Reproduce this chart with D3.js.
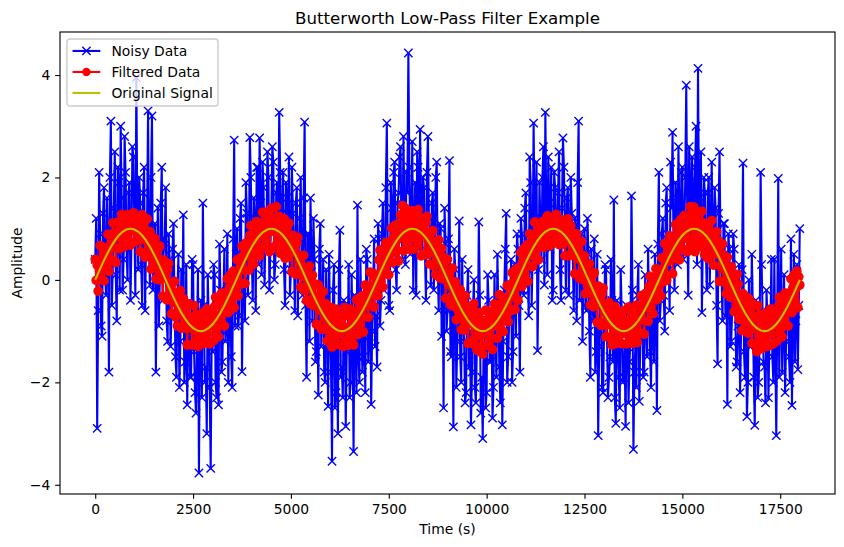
<!DOCTYPE html>
<html>
<head>
<meta charset="utf-8">
<script src="https://cdn.jsdelivr.net/npm/d3@7"></script>
<style>
  body { margin: 0; background: #fff; }
  svg { display: block; font-family: "DejaVu Sans", sans-serif; }
</style>
</head>
<body>
<svg id="chart" width="844" height="547"></svg>
<script>
'use strict';

// sample spacing of each series (seconds)
var noisyStep = 50;      // noisyMid sits halfway between these
var filteredStep = 25;
var originalStep = 200;

// noisy samples at t = 0, 50, 100 ... (600 s per row)
var noisyValues = [
  0.4, -2.9, 2.1, -0.9, 1.3, 0.2, 1.6, -1.8, 3.1, 0.3, 2.5, -0.8,
  1.9, 3.0, -0.2, 2.8, 0.6, 1.7, -0.4, 2.6, 1.1, 3.95, 0.2, 1.5,
  -0.5, 2.2, 0.9, 3.3, -0.1, 3.2, 0.5, -1.8, 1.4, 0.0, 2.2, 0.6,
  1.8, -1.2, 0.4, -0.7, 1.1, -1.5, -0.3, -2.1, 0.2, 1.27, -1.6, -2.44,
  -0.5, -1.9, 0.3, -2.2, -1.1, -3.77, -0.4, 1.5, -2.0, -3.0, -0.8, -3.68,
  -1.4, 0.1, -2.3, -2.44, -0.2, -1.6, 0.6, -1.0, -2.0, -0.1, -2.1, 2.73,
  0.5, -0.9, 1.2, -1.79, 0.6, 1.9, -0.3, 2.78, 0.4, 1.6, -0.6, 2.2,
  2.77, 0.1, 1.8, 0.9, 2.5, -0.2, 1.4, 2.3, 0.3, 1.9, 3.27, 0.7,
  2.1, -0.5, 1.6, 2.4, 0.2, 1.3, -0.6, 1.8, 0.5, 2.0, -0.3, 3.08,
  -1.9, 0.9, 1.6, -0.8, 0.4, -1.4, -2.25, 1.1, -0.6, -1.8, 0.2, -2.47,
  -1.0, -3.54, 0.3, -2.2, -3.0, 0.97, -1.7, -0.4, -2.86, -1.2, -2.3, 0.1,
  -3.35, -1.0, 1.46, -2.0, -0.7, -1.5, -2.2, 0.4, -1.1, -2.43, -0.2, -1.3,
  -1.7, 0.8, -0.4, 1.5, 0.2, 3.06, -0.5, 1.9, 0.6, 2.3, -0.2, 1.7,
  2.6, 0.4, 1.2, 2.1, 4.43, 0.5, 2.7, 1.0, -0.3, 2.2, 2.94, 0.6,
  1.8, -0.4, 2.8, 0.9, 1.5, -0.2, 2.0, 0.3, 1.1, -1.1, -2.5, 0.7,
  -0.6, 2.33, -1.5, -2.87, 0.2, -1.2, 1.15, -2.0, -0.8, -2.4, -0.3, -1.7,
  -2.83, -0.6, -2.1, -1.3, 1.13, -2.6, -3.1, -0.9, -2.2, -0.4, -1.6, -2.7,
  0.1, -1.9, -0.7, -2.4, -2.83, -0.2, 1.3, -1.5, -0.5, -2.0, 0.3, -1.1,
  0.6, -1.8, 0.9, -0.3, 1.7, 0.2, 2.4, -0.5, 3.06, 0.8, -1.38, 1.9,
  0.4, 2.6, 3.27, 0.1, 1.5, 2.2, -0.2, 1.8, 0.7, 2.5, -0.4, 2.77,
  0.9, 1.6, -0.3, 2.0, 0.5, 1.2, -0.8, 3.1, 0.3, -1.2, 1.0, -0.6,
  0.5, -1.9, -0.3, 0.8, -1.4, -3.04, -0.5, -2.1, -1.0, 0.2, -2.3, -1.5,
  -0.4, 1.56, -2.8, -1.1, -2.5, -0.6, -1.9, -2.86, -0.8, -1.6, 1.64, -3.31,
  -1.3, -0.3, -2.37, -1.0, -1.9, 0.1, -1.5, -0.6, -2.1, -0.9, 0.5, -2.55,
  2.1, -0.4, 1.2, -1.0, 1.8, 0.3, 2.3, 2.88, -0.2, 1.6, 2.6, 0.5,
  2.2, 1.0, 3.8, -0.3, 1.9, 2.4, 0.8, 3.0, 4.13, 1.2, -0.64, 2.0,
  0.6, 1.7, -0.1, 2.3, 0.9, 1.4, -1.64, 2.5, 0.2, 1.1, -0.7, -2.43,
  0.6, -1.2, 0.9, -0.4, -1.6, 0.3, -1.0, 2.28, -1.9, -2.67, 0.0, -1.3,
  -0.5, -2.84, -1.1, -2.0, 2.1, -0.6, -1.7, -0.2, -2.3, -0.9, -1.5, 0.4,
  -3.04, 1.98, -0.7, -1.8, 0.1, -1.2, -0.3, -2.0, -2.45, 0.5, -0.8, -1.75,
  1.0
];

// noisy samples at t = 25, 75, 125 ... (600 s per row)
var noisyMid = [
  1.2, -0.6, 0.9, -1.1, 1.8, -0.3, 0.8, 2.0, -0.5, 1.4, 0.1, 2.2,
  -0.2, 1.6, 0.4, 2.1, 0.0, 1.9, 0.7, 2.4, -0.3, 1.3, 2.0, 0.3,
  1.7, -0.6, 1.2, 0.5, 2.0, -0.2, 1.1, 0.4, -0.9, 1.5, -0.4, 0.8,
  -0.8, 0.9, -1.3, 0.6, -0.4, -1.9, 0.5, -1.2, -0.6, -2.0, 0.3, -1.0,
  -1.9, 0.4, -1.4, -2.6, 0.2, -1.0, -2.3, -0.5, -1.7, 0.1, -2.1, -1.2,
  0.3, -2.0, -0.9, 0.7, -1.8, -0.3, -1.2, 0.9, -0.6, -1.5, 0.8, -0.9,
  1.0, -0.7, 1.5, 0.1, -0.8, 1.3, 0.5, 2.0, -0.4, 1.2, 2.2, 0.3,
  1.5, 2.3, -0.1, 1.1, 2.0, 0.6, 2.6, 0.0, 1.7, 0.8, 2.1, 1.3,
  0.2, 1.9, 1.0, -0.3, 2.2, 0.6, 1.5, -0.7, 1.2, 0.1, 1.6, -0.5,
  0.9, -1.2, 0.3, 1.2, -1.6, -0.4, 0.6, -1.3, 0.4, -2.0, -0.7, 0.5,
  -1.8, -0.2, -2.5, -1.1, 0.2, -1.9, -2.3, -0.5, -1.4, 0.3, -2.0, -1.1,
  -0.3, -2.2, -1.5, 0.4, -1.8, -0.8, 0.6, -1.6, -0.1, -1.0, 0.8, -0.7,
  1.1, -0.9, 0.9, -0.2, 1.8, 0.4, -0.6, 1.4, 2.1, 0.2, 1.5, 2.4,
  0.9, 2.8, 0.3, 1.7, 2.2, 1.0, -0.2, 1.9, 2.5, 0.6, 1.4, 2.0,
  0.5, 2.1, 1.2, -0.1, 1.7, 0.8, 2.3, -0.6, 1.0, 0.3, 1.4, -1.0,
  0.8, -1.4, -0.3, 0.6, -2.1, -0.8, -1.5, 0.4, -1.2, -2.2, 0.2, -1.0,
  -1.8, 0.0, -2.4, -1.2, -0.3, -1.9, -1.0, -2.5, 0.1, -1.6, -0.7, -2.1,
  -1.0, 0.5, -1.7, -0.3, -1.2, 0.6, -2.0, -0.8, 0.4, -1.4, -0.2, 0.9,
  -0.5, 1.2, -0.2, 1.4, 0.3, -0.7, 1.9, 0.5, 1.2, 2.3, 0.2, 1.0,
  2.0, -0.1, 1.3, 2.4, 0.6, -0.4, 2.1, 1.0, 1.7, 0.2, 1.4, 2.2,
  -0.2, 1.8, 0.8, 1.3, -0.6, 1.0, 1.9, -0.4, 0.9, 0.4, -0.5, 1.2,
  -1.0, 0.6, -0.8, -1.8, 0.5, -1.3, -0.4, -2.2, 0.3, -1.1, -1.9, 0.4,
  -1.6, -2.3, -0.4, -1.9, 0.2, -2.0, -1.3, -0.5, -2.4, -1.1, -0.2, -1.8,
  -2.1, 0.3, -1.2, -0.5, -1.8, -0.9, 0.6, -1.4, -0.2, -1.6, -0.7, 0.7,
  -0.8, 0.9, -0.3, 1.5, 0.4, -0.6, 1.4, 0.6, 1.9, 0.3, 1.2, 2.1,
  0.4, 2.0, 1.3, 2.6, 0.6, 1.6, 2.2, 0.3, 1.5, 2.5, 0.9, 1.7,
  -0.2, 2.0, 1.0, 0.3, 1.8, -0.5, 1.3, 0.7, -0.8, 1.1, 0.4, 0.9,
  -1.3, -0.5, 0.6, -1.7, -0.9, -2.2, 0.2, -1.4, -0.6, -2.0, -1.3, 0.5,
  -1.9, -0.4, -2.3, -1.2, 0.3, -1.6, -2.4, -0.8, -1.1, 0.4, -2.0, -1.4,
  -0.6, -1.9, 0.6, -1.0, -2.2, -0.3, -1.5, 0.8, -0.9, -1.6, 0.3, -0.5
];

// filtered samples every 25 s (300 s per row, 12 rows per period)
var filteredValues = [
  0.4, -0.01, 0.29, -0.22, 0.27, 0.67, 0.01, 0.3, 0.64, -0.02, 0.57, 0.31,
  0.3, 0.89, 0.17, 0.66, 0.89, 0.38, 1.11, 0.64, 0.92, 0.34, 1.12, 0.84,
  0.95, 0.61, 1.15, 1.28, 0.78, 0.99, 0.65, 1.18, 0.9, 1.27, 0.76, 1.16,
  0.68, 1.16, 0.96, 1.31, 0.74, 1.1, 1.25, 0.79, 0.94, 1.16, 0.55, 0.97,
  1.27, 0.79, 1.02, 0.44, 0.87, 1.19, 0.46, 0.68, 0.94, 0.21, 0.72, 0.39,
  0.3, 0.81, 0.02, 0.43, 0.59, 0.0, 0.66, 0.12, 0.32, -0.32, 0.39, 0.04,
  0.1, -0.39, 0.21, 0.32, -0.37, -0.17, -0.66, -0.05, -0.44, -0.03, -0.72, -0.26,
  -0.9, -0.34, -0.62, -0.21, -0.94, -0.53, -0.36, -0.94, -0.77, -0.49, -1.27, -0.74,
  -0.47, -0.94, -0.71, -1.27, -0.84, -0.5, -1.22, -0.98, -0.68, -1.3, -0.85, -1.15,
  -1.2, -0.65, -1.25, -0.94, -0.73, -1.22, -0.57, -1.05, -0.79, -1.25, -0.61, -0.89,
  -0.77, -1.19, -0.52, -0.34, -0.97, -0.69, -1.11, -0.43, -0.74, -0.26, -0.87, -0.34,
  -0.9, -0.26, -0.47, 0.02, -0.64, -0.15, 0.09, -0.42, -0.17, 0.17, -0.54, 0.06,
  -0.2, 0.39, -0.31, 0.18, 0.42, -0.08, 0.66, 0.2, 0.49, -0.07, 0.72, 0.46,
  0.6, 0.19, 0.87, 1.06, 0.44, 0.73, 0.31, 0.99, 0.67, 1.14, 0.52, 1.04,
  0.47, 1.09, 0.86, 1.32, 0.64, 1.1, 1.32, 0.78, 0.98, 1.29, 0.55, 1.1,
  1.4, 0.95, 1.2, 0.64, 1.08, 1.43, 0.72, 0.95, 1.24, 0.52, 1.06, 0.74,
  0.67, 1.19, 0.42, 0.84, 1.02, 0.44, 1.11, 0.58, 0.79, 0.16, 0.87, 0.54,
  0.6, 0.11, 0.72, 0.83, 0.14, 0.35, -0.14, 0.47, 0.07, 0.48, -0.21, 0.24,
  -0.4, 0.16, -0.14, 0.27, -0.47, -0.07, 0.09, -0.5, -0.34, -0.08, -0.87, -0.36,
  -0.1, -0.59, -0.37, -0.96, -0.54, -0.23, -0.96, -0.74, -0.47, -1.19, -0.67, -0.99,
  -1.07, -0.54, -1.31, -0.87, -0.69, -1.25, -0.57, -1.08, -0.83, -1.26, -0.7, -1.0,
  -0.9, -1.3, -0.7, -0.54, -1.18, -0.93, -1.28, -0.7, -1.04, -0.57, -1.21, -0.69,
  -1.27, -0.64, -0.87, -0.39, -1.07, -0.59, -0.36, -0.88, -0.64, -0.31, -1.02, -0.44,
  -0.1, -0.51, -0.22, -0.73, -0.24, 0.15, -0.51, -0.22, 0.13, -0.53, 0.06, -0.19,
  0.1, -0.31, 0.39, 0.58, -0.03, 0.27, -0.14, 0.55, 0.24, 0.73, 0.12, 0.66,
  0.1, 0.74, 0.52, 1.01, 0.34, 0.83, 1.06, 0.54, 0.77, 1.09, 0.37, 0.94,
  1.27, 0.84, 1.45, 0.57, 1.04, 1.4, 0.72, 0.98, 1.28, 0.59, 1.15, 0.85,
  0.8, 1.35, 0.6, 1.04, 1.23, 0.68, 1.37, 0.85, 1.09, 0.47, 1.21, 0.89,
  0.97, 0.49, 1.12, 1.24, 0.57, 0.79, 0.31, 0.93, 0.54, 0.96, 0.27, 0.74,
  0.1, 0.66, 0.37, 0.78, 0.04, 0.45, 0.61, 0.02, 0.17, 0.43, -0.36, 0.14,
  0.4, -0.09, 0.11, -0.48, -0.07, 0.23, -0.51, -0.3, -0.04, -0.78, -0.27, -0.61,
  -0.7, -0.19, -0.97, -0.56, -0.39, -0.98, -0.31, -0.84, -0.62, -1.24, -0.52, -0.84,
  -0.77, -1.24, -0.61, -0.47, -1.14, -0.9, -1.37, -0.73, -1.08, -0.64, -1.3, -0.8,
  -1.45, -0.8, -1.05, -0.59, -1.28, -0.83, -0.62, -1.15, -0.94, -0.62, -1.36, -0.79,
  -0.47, -0.89, -0.62, -1.14, -0.67, -0.29, -0.96, -0.68, -0.34, -1.01, -0.42, -0.69,
  -0.7, -0.11, -0.82, -0.33, -0.09, -0.6, 0.14, -0.32, -0.02, -0.58, 0.21, -0.04,
  -0.4, 0.24, 0.04, 0.53, -0.13, 0.37, 0.61, 0.1, 0.34, 0.68, -0.03, 0.56,
  0.9, 0.49, 0.77, 0.26, 0.74, 1.13, 0.46, 0.74, 1.07, 0.39, 0.97, 0.69,
  0.73, 1.14, 0.63, 0.96, 1.12, 0.74, 1.25, 0.91, 1.09, 0.67, 1.21, 1.0,
  1.07, 0.75, 1.21, 1.28, 0.84, 1.02, 0.69, 1.13, 0.87, 1.17, 0.7, 1.03,
  0.47, 1.04, 0.77, 1.19, 0.47, 0.89, 1.06, 0.48, 0.64, 0.91, 0.12, 0.64,
  0.9, 0.41, 0.62, 0.03, 0.44, 0.75, 0.01, 0.22, 0.47, -0.27, 0.24, -0.11,
  -0.2, 0.31, -0.49, -0.08, 0.08, -0.52, 0.14, -0.4, -0.19, -0.83, -0.12, -0.46,
  -0.4, -0.89, -0.27, -0.16, -0.84, -0.63, -1.11, -0.49, -0.87, -0.44, -1.12, -0.64,
  -1.27, -0.69, -0.96, -0.52, -1.24, -0.8, -0.62, -1.18, -0.98, -0.69, -1.25, -0.9,
  -0.6, -1.05, -0.8, -1.25, -0.88, -0.53, -1.22, -0.95, -0.64, -1.24, -0.76, -1.04,
  -1.07, -0.49, -1.22, -0.74, -0.52, -1.04, -0.31, -0.78, -0.49, -1.06, -0.27, -0.54,
  -0.4, -0.81, -0.12, 0.07, -0.54, -0.25, -0.66, 0.03, -0.27, 0.22, -0.39, 0.16,
  -0.15, 0.19, -0.31, 0.43, 0.17, -0.03, 0.71, 0.4, -0.01, 0.58, 0.37, 0.86,
  0.5, 0.84, 0.12, 0.76, 0.54, 1.08, 0.41, 0.99, 0.82, 0.39, 1.17, 0.64,
  1.07, 0.59, 1.26, 0.82, 1.19, 0.55, 1.02, 0.78, 1.43, 1.29, 0.65, 1.1,
  1.42, 0.55, 1.3, 0.99, 0.78, 1.33, 1.12, 0.65, 1.34, 0.87, 1.11, 0.49,
  0.72, 0.99, 0.42, 1.09, 0.77, 0.49, 1.16, 0.78, 0.29, 0.81, 0.52, 0.94,
  0.5, 0.76, -0.03, 0.53, 0.24, 0.7, -0.04, 0.47, 0.22, -0.27, 0.44, -0.16,
  0.2, -0.34, 0.26, -0.23, 0.08, -0.62, -0.21, -0.5, 0.11, -0.08, -0.77, -0.36,
  -0.4, -0.99, -0.27, -0.61, -0.84, -0.33, -0.56, -1.04, -0.37, -0.84, -0.62, -1.24,
  -0.47, -0.94, -0.71, -1.27, -1.4, -0.5, -1.22, -0.98, -0.68, -1.34, -0.85, -1.15,
  -1.2, -0.65, -1.3, -0.94, -0.73, -1.28, -0.57, -1.05, -0.79, -1.25, -0.61, -0.89,
  -0.77, -1.19, -0.52, -0.34, -0.97, -0.69, -1.11, -0.43, -0.74, -0.26, -0.87, -0.34,
  -0.9, -0.26, -0.47, 0.02, -0.64, -0.15, 0.09, -0.42, -0.17, 0.17, -0.54, 0.06,
  -0.1
];

// the clean sine, one period (3600 s) per row
var originalValues = [
  0, 0.342, 0.643, 0.866, 0.985, 0.985, 0.866, 0.643, 0.342, 0, -0.342, -0.643, -0.866, -0.985, -0.985, -0.866, -0.643, -0.342,
  0, 0.342, 0.643, 0.866, 0.985, 0.985, 0.866, 0.643, 0.342, 0, -0.342, -0.643, -0.866, -0.985, -0.985, -0.866, -0.643, -0.342,
  0, 0.342, 0.643, 0.866, 0.985, 0.985, 0.866, 0.643, 0.342, 0, -0.342, -0.643, -0.866, -0.985, -0.985, -0.866, -0.643, -0.342,
  0, 0.342, 0.643, 0.866, 0.985, 0.985, 0.866, 0.643, 0.342, 0, -0.342, -0.643, -0.866, -0.985, -0.985, -0.866, -0.643, -0.342,
  0, 0.342, 0.643, 0.866, 0.985, 0.985, 0.866, 0.643, 0.342, 0, -0.342, -0.643, -0.866, -0.985, -0.985, -0.866, -0.643, -0.342,
  0
];

var xTicks = [0, 2500, 5000, 7500, 10000, 12500, 15000, 17500];
var yTicks = [-4, -2, 0, 2, 4];
var seriesNames = ['Noisy Data', 'Filtered Data', 'Original Signal'];

var W = 844, H = 547;
var margin = {top: 32, right: 9, bottom: 53, left: 60};
var innerW = W - margin.left - margin.right;
var innerH = H - margin.top - margin.bottom;
var pt = 100 / 72;

// merge the on-step and half-step samples into one ordered list
function interleave(a, b) {
  var out = [];
  a.forEach(function(v, i) {
    out.push(v);
    if (i < b.length) out.push(b[i]);
  });
  return out;
}

function toPoints(values, step) {
  return values.map(function(v, i) { return {t: i * step, v: v}; });
}

var noisy = toPoints(interleave(noisyValues, noisyMid), noisyStep / 2);
var filtered = toPoints(filteredValues, filteredStep);
var original = toPoints(originalValues, originalStep);

var tExtent = d3.extent(noisy, function(d) { return d.t; });
var vExtent = d3.extent(noisy.concat(filtered, original), function(d) { return d.v; });
var tPad = (tExtent[1] - tExtent[0]) * 0.05;
var vPad = (vExtent[1] - vExtent[0]) * 0.05;

var x = d3.scaleLinear().domain([tExtent[0] - tPad, tExtent[1] + tPad]).range([0, innerW]);
var y = d3.scaleLinear().domain([vExtent[0] - vPad, vExtent[1] + vPad]).range([innerH, 0]);

var svg = d3.select('#chart');
svg.append('rect').attr('width', W).attr('height', H).attr('fill', '#fff');

var g = svg.append('g').attr('transform', 'translate(' + margin.left + ',' + margin.top + ')');

svg.append('defs').append('clipPath').attr('id', 'plotClip')
  .append('rect').attr('width', innerW).attr('height', innerH);

var plot = g.append('g').attr('clip-path', 'url(#plotClip)');

var line = d3.line()
  .x(function(d) { return x(d.t); })
  .y(function(d) { return y(d.v); });

var ms = 6 * pt / 2;
var xMarker = 'M' + (-ms) + ',' + (-ms) + 'L' + ms + ',' + ms + 'M' + (-ms) + ',' + ms + 'L' + ms + ',' + (-ms);

// noisy data: line then x markers
plot.append('path').datum(noisy)
  .attr('d', line)
  .attr('fill', 'none')
  .attr('stroke', '#0000ff')
  .attr('stroke-width', 1.5 * pt)
  .attr('stroke-linejoin', 'round');

plot.append('g').selectAll('path')
  .data(noisy)
  .enter()
  .append('path')
  .attr('transform', function(d) { return 'translate(' + x(d.t) + ',' + y(d.v) + ')'; })
  .attr('d', xMarker)
  .attr('stroke', '#0000ff')
  .attr('stroke-width', pt)
  .attr('fill', 'none');

// filtered data: line then round markers
plot.append('path').datum(filtered)
  .attr('d', line)
  .attr('fill', 'none')
  .attr('stroke', '#ff0000')
  .attr('stroke-width', 1.5 * pt)
  .attr('stroke-linejoin', 'round');

plot.append('g').selectAll('circle')
  .data(filtered)
  .enter()
  .append('circle')
  .attr('cx', function(d) { return x(d.t); })
  .attr('cy', function(d) { return y(d.v); })
  .attr('r', ms)
  .attr('fill', '#ff0000')
  .attr('stroke', '#ff0000')
  .attr('stroke-width', pt);

// original signal
plot.append('path').datum(original)
  .attr('d', line.curve(d3.curveNatural))
  .attr('fill', 'none')
  .attr('stroke', '#bfbf00')
  .attr('stroke-width', 1.5 * pt);
line.curve(d3.curveLinear);

// axes
var tickLen = 3.5 * pt;
var fontPx = 10 * pt;

var xAxis = g.append('g')
  .attr('transform', 'translate(0,' + innerH + ')')
  .call(d3.axisBottom(x).tickValues(xTicks).tickSize(tickLen).tickPadding(tickLen).tickFormat(d3.format('d')));

var yAxis = g.append('g')
  .call(d3.axisLeft(y).tickValues(yTicks).tickSize(tickLen).tickPadding(tickLen).tickFormat(d3.format('d')));

[xAxis, yAxis].forEach(function(ax) {
  ax.select('.domain').remove();
  ax.attr('font-family', '"DejaVu Sans", sans-serif').attr('font-size', fontPx);
  ax.selectAll('line').attr('stroke', '#000').attr('stroke-width', 0.8 * pt);
  ax.selectAll('text').attr('fill', '#000');
});

g.append('rect')
  .attr('width', innerW)
  .attr('height', innerH)
  .attr('fill', 'none')
  .attr('stroke', '#000')
  .attr('stroke-width', 0.8 * pt);

// title and axis labels
svg.append('text')
  .attr('x', margin.left + innerW / 2)
  .attr('y', 23.7)
  .attr('text-anchor', 'middle')
  .attr('font-size', 12 * pt)
  .text('Butterworth Low-Pass Filter Example');

svg.append('text')
  .attr('x', margin.left + innerW / 2)
  .attr('y', 534)
  .attr('text-anchor', 'middle')
  .attr('font-size', fontPx)
  .text('Time (s)');

svg.append('text')
  .attr('transform', 'translate(22,' + (margin.top + innerH / 2) + ') rotate(-90)')
  .attr('text-anchor', 'middle')
  .attr('font-size', fontPx)
  .text('Amplitude');

// legend
var legend = g.append('g').attr('transform', 'translate(' + (0.5 * fontPx) + ',' + (0.5 * fontPx) + ')');
legend.append('rect')
  .attr('width', 151)
  .attr('height', 67)
  .attr('rx', 2.8)
  .attr('fill', '#fff')
  .attr('fill-opacity', 0.8)
  .attr('stroke', '#cccccc')
  .attr('stroke-width', pt);

var colors = ['#0000ff', '#ff0000', '#bfbf00'];
var rows = legend.selectAll('g.item')
  .data(seriesNames)
  .enter()
  .append('g')
  .attr('class', 'item')
  .attr('transform', function(d, i) { return 'translate(0,' + (12 + i * 21) + ')'; });

rows.append('line')
  .attr('x1', 5.6)
  .attr('x2', 5.6 + 2 * fontPx)
  .attr('stroke', function(d, i) { return colors[i]; })
  .attr('stroke-width', 1.5 * pt);

rows.filter(function(d, i) { return i === 0; })
  .append('path')
  .attr('transform', 'translate(' + (5.6 + fontPx) + ',0)')
  .attr('d', xMarker)
  .attr('stroke', '#0000ff')
  .attr('stroke-width', pt)
  .attr('fill', 'none');

rows.filter(function(d, i) { return i === 1; })
  .append('circle')
  .attr('cx', 5.6 + fontPx)
  .attr('r', ms)
  .attr('fill', '#ff0000');

rows.append('text')
  .attr('x', 5.6 + 2.8 * fontPx)
  .attr('dy', '0.36em')
  .attr('font-size', fontPx)
  .text(function(d) { return d; });
</script>
</body>
</html>
